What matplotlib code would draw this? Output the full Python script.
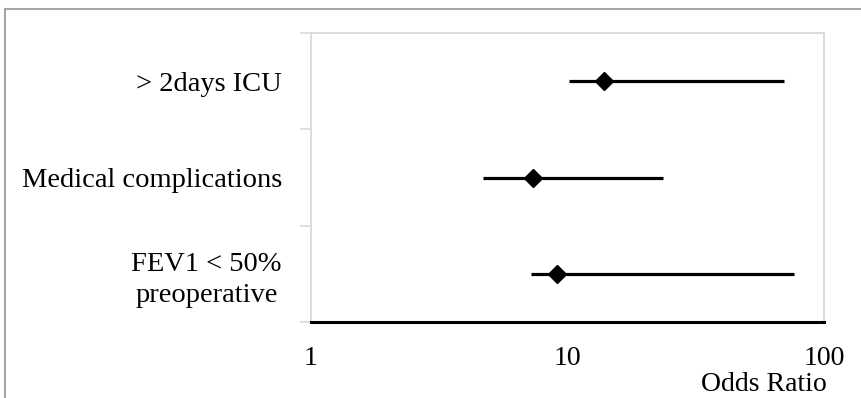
import matplotlib.pyplot as plt
from matplotlib.patches import Rectangle

# forest plot data (odds ratio with 95% CI), top to bottom
labels = ["> 2days ICU", "Medical complications", "FEV1 < 50%\npreoperative"]
odds = [13.9, 7.36, 9.08]
ci_low = [10.1, 4.70, 7.19]
ci_high = [70.0, 23.5, 76.2]
xticks = [1, 10, 100]

plt.rcParams['font.family'] = ['Liberation Serif', 'DejaVu Serif']

fig = plt.figure(figsize=(8.62, 3.98), dpi=100)
ax = fig.add_axes([311/862, 1 - 322/398, (824 - 311)/862, (322 - 33)/398])

ypos = [i + 0.5 for i in range(len(labels))]
for y, o, lo, hi in zip(ypos, odds, ci_low, ci_high):
    ax.plot([lo, hi], [y, y], color='black', lw=2.3, solid_capstyle='butt', zorder=2)
    ax.plot(o, y, marker='D', color='black', markersize=9.5, zorder=3)

ax.set_xscale('log')
ax.set_xlim(1, 100)
ax.set_ylim(len(labels), 0)

ax.set_xticks(xticks)
ax.set_xticklabels([str(t) for t in xticks], fontsize=20)
ax.xaxis.set_minor_locator(plt.NullLocator())
ax.tick_params(axis='x', length=0, pad=17)

ax.set_yticks(ypos)
ax.set_yticklabels(labels, fontsize=20.5, multialignment='center', linespacing=1.3)
ax.set_yticks(range(len(labels) + 1), minor=True)
ax.tick_params(axis='y', which='major', length=0, pad=21)
ax.tick_params(axis='y', which='minor', length=8, color='#d9d9d9', width=1.2)

for side in ['top', 'left', 'right']:
    ax.spines[side].set_color('#d9d9d9')
    ax.spines[side].set_linewidth(1.3)
ax.spines['bottom'].set_color('black')
ax.spines['bottom'].set_linewidth(2.2)

fig.text(764/862, 1 - 391/398, "Odds Ratio", fontsize=20, ha='center', va='baseline')

# outer chart border
fig.patches.append(Rectangle((5/862, -0.1), 1.2, 1 - 9/398 + 0.1,
                             transform=fig.transFigure, fill=False,
                             edgecolor='#a6a6a6', lw=1.5))

fig.savefig('out.png', dpi=100)
